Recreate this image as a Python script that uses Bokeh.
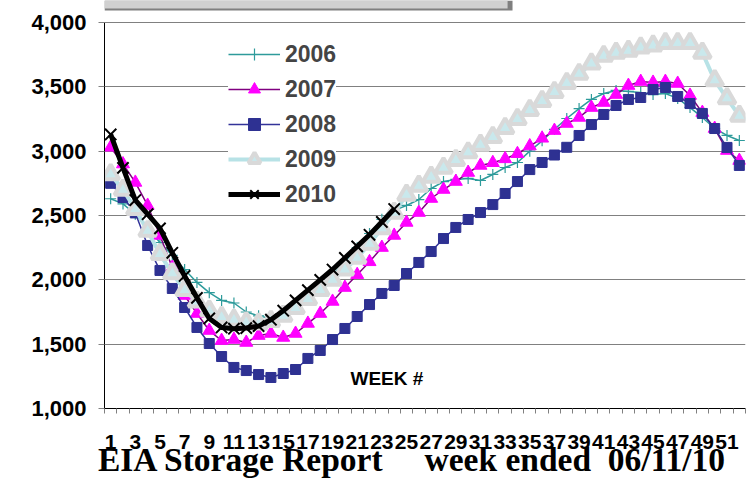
from bokeh.plotting import figure
from bokeh.models import (FixedTicker, NumeralTickFormatter, Legend, LegendItem,
                          Label, Range1d, BoxAnnotation)
from bokeh.embed import file_html
from bokeh.resources import INLINE

weeks = list(range(1, 53))
weeks_2010 = list(range(1, 25))

s2006 = [2630, 2590, 2510, 2400, 2290, 2190, 2080, 1980, 1900, 1840, 1820, 1750, 1720,
         1700, 1740, 1800, 1870, 1940, 2040, 2140, 2250, 2360, 2470, 2540, 2578, 2624,
         2710, 2764, 2780, 2788, 2772, 2819, 2873, 2912, 3000, 3080, 3170, 3254, 3331,
         3402, 3448, 3472, 3464, 3456, 3440, 3448, 3410, 3339, 3262, 3176, 3122, 3083]
s2007 = [3030, 2900, 2757, 2578, 2345, 2096, 1878, 1738, 1606, 1528, 1536, 1513, 1567,
         1583, 1552, 1583, 1661, 1738, 1832, 1940, 2040, 2140, 2251, 2345, 2446, 2523,
         2632, 2702, 2764, 2834, 2889, 2910, 2940, 2980, 3040, 3100, 3160, 3215, 3262,
         3339, 3378, 3440, 3510, 3541, 3534, 3541, 3526, 3433, 3300, 3176, 3005, 2927]
s2008 = [2750, 2640, 2520, 2267, 2073, 1933, 1785, 1630, 1505, 1404, 1319, 1295, 1264,
         1241, 1272, 1303, 1389, 1451, 1536, 1622, 1715, 1808, 1894, 1956, 2049, 2135,
         2220, 2321, 2407, 2469, 2523, 2585, 2671, 2764, 2857, 2912, 2970, 3030, 3122,
         3207, 3285, 3355, 3402, 3417, 3479, 3495, 3425, 3370, 3293, 3176, 3029, 2889]
s2009 = [2820, 2700, 2550, 2380, 2200, 2050, 1920, 1830, 1760, 1710, 1690, 1670, 1660,
         1680, 1720, 1780, 1850, 1920, 2000, 2080, 2170, 2280, 2400, 2520, 2660, 2730,
         2800, 2870, 2930, 2990, 3050, 3110, 3180, 3250, 3320, 3390, 3460, 3530, 3600,
         3680, 3740, 3765, 3780, 3805, 3820, 3840, 3840, 3840, 3765, 3550, 3410, 3275]
s2010 = [3130, 2870, 2620, 2510, 2400, 2210, 2030, 1860, 1700, 1630, 1620, 1625, 1640,
         1690, 1760, 1840, 1920, 2000, 2080, 2170, 2260, 2350, 2450, 2550]

y_ticks = [1000, 1500, 2000, 2500, 3000, 3500, 4000]
x_label_ticks = list(range(1, 53, 2))
x_minor = [w + 0.5 for w in range(0, 53)]

NB = "\u00a0"
title_text = "EIA Storage Report" + NB * 4 + " week ended" + NB + " 06/11/10" + NB * 3
axis_note = "WEEK #"

# frame spans from the top of the canvas; 4,000 sits 22 px below it
y_top = 4000 + 22 * 3000 / 386

p = figure(width=752, height=482, output_backend="svg", toolbar_location=None,
           x_range=Range1d(0.5, 52.5), y_range=Range1d(1000, y_top),
           min_border_left=104, min_border_right=7, min_border_top=0,
           min_border_bottom=74)
p.outline_line_color = None
p.background_fill_color = "white"
p.xgrid.visible = False
p.ygrid.grid_line_color = "#808080"
p.ygrid.grid_line_width = 1

p.yaxis.ticker = FixedTicker(ticks=y_ticks)
p.yaxis.bounds = (1000, 4000)
p.yaxis.formatter = NumeralTickFormatter(format="0,0")
p.yaxis.major_label_text_font = "Liberation Sans"
p.yaxis.major_label_text_font_style = "bold"
p.yaxis.major_label_text_font_size = "22px"
p.yaxis.major_label_text_color = "black"
p.yaxis.major_tick_out = 6
p.yaxis.major_tick_in = 0
p.yaxis.major_tick_line_color = "#808080"
p.yaxis.minor_tick_line_color = None
p.yaxis.axis_line_color = "black"
p.yaxis.major_label_standoff = 12

p.xaxis.ticker = FixedTicker(ticks=x_label_ticks, minor_ticks=x_minor)
p.xaxis.major_tick_out = 0
p.xaxis.major_tick_in = 0
p.xaxis.minor_tick_out = 5
p.xaxis.minor_tick_in = 0
p.xaxis.minor_tick_line_color = "#808080"
p.xaxis.axis_line_color = "black"
p.xaxis.major_label_text_font = "Liberation Sans"
p.xaxis.major_label_text_font_style = "bold"
p.xaxis.major_label_text_font_size = "21px"
p.xaxis.major_label_text_color = "black"
p.xaxis.major_label_standoff = 21
p.xaxis.axis_label = title_text
p.xaxis.axis_label_text_font = "Liberation Serif"
p.xaxis.axis_label_text_font_style = "bold"
p.xaxis.axis_label_text_font_size = "33.5px"
p.xaxis.axis_label_text_color = "black"
p.xaxis.axis_label_standoff = -11

# grey title-box strip at the top edge
p.add_layout(BoxAnnotation(left=0.5, right=33.6, bottom=4093, top=y_top,
                           fill_color="#7F7F7F", fill_alpha=1.0, line_color=None))
p.add_layout(BoxAnnotation(left=0.5, right=33.2, bottom=4109, top=y_top,
                           fill_color="#D0D0D0", fill_alpha=1.0, line_color=None))

teal = "#2E9B9B"
l06 = p.line(weeks, s2006, line_color=teal, line_width=1.5)
m06 = p.scatter(weeks, s2006, marker="cross", size=11, line_color=teal, line_width=1.2)
l07 = p.line(weeks, s2007, line_color="#800080", line_width=1.5)
m07 = p.scatter(weeks, s2007, marker="triangle", size=13, fill_color="#FF00FF",
                line_color="#FF00FF")
l08 = p.line(weeks, s2008, line_color="#333399", line_width=1.5)
m08 = p.scatter(weeks, s2008, marker="square", size=10, fill_color="#2E3192",
                line_color="#2E3192")
l09 = p.line(weeks, s2009, line_color="#B7E2E6", line_width=4)
m09 = p.scatter(weeks, s2009, marker="triangle", size=17, fill_color="#C9E8EC",
                line_color="#D9D9D9", line_width=4)
l10 = p.line(weeks_2010, s2010, line_color="black", line_width=5)
m10 = p.scatter(weeks_2010, s2010, marker="x", size=16, line_color="black", line_width=2)

legend = Legend(items=[
    LegendItem(label="2006", renderers=[l06, m06]),
    LegendItem(label="2007", renderers=[l07, m07]),
    LegendItem(label="2008", renderers=[l08, m08]),
    LegendItem(label="2009", renderers=[l09, m09]),
    LegendItem(label="2010", renderers=[l10, m10]),
], location=(124, 199), border_line_color=None, background_fill_color="white",
   background_fill_alpha=1.0, label_text_font="Liberation Sans",
   label_text_font_style="bold", label_text_font_size="23px", glyph_width=52,
   glyph_height=30, label_height=30, spacing=5, padding=10, margin=0,
   label_standoff=5)
p.add_layout(legend)

p.add_layout(Label(x=246, y=30, x_units="screen", y_units="screen", text=axis_note,
                   text_font="Liberation Sans", text_font_style="bold",
                   text_font_size="19px", text_baseline="middle", text_color="black"))

open("out.html", "w").write(file_html(p, INLINE))
